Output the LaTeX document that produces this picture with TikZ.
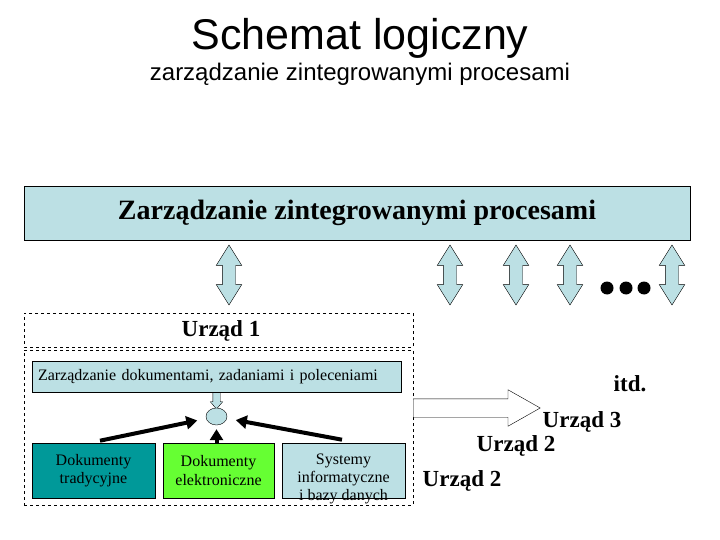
\documentclass[tikz,border=0pt]{standalone}
\usepackage{fontspec}
\setmainfont{Liberation Serif}
\newfontfamily\titlefont{Liberation Sans}
\usepackage{tikz}
\usetikzlibrary{shapes.geometric, shapes.arrows, arrows.meta, positioning}
\definecolor{paleblue}{RGB}{188,224,228}
\definecolor{docteal}{RGB}{0,153,153}
\definecolor{docgreen}{RGB}{102,255,51}
\tikzset{
    procbox/.style={rectangle, draw=black, fill=paleblue, inner sep=0pt},
    unitbox/.style={rectangle, draw=black, dashed, inner sep=0pt},
    docbox/.style={rectangle, draw=black, semithick, align=center, inner sep=0pt,
                   minimum height=55pt, font=\fontsize{16}{18.5}\selectfont},
    linkarrow/.style={double arrow, draw=black, fill=paleblue, rotate=90,
                      inner xsep=0pt, inner ysep=6.5pt, double arrow tip angle=64,
                      double arrow head extend=6pt, minimum height=60pt, minimum width=25pt},
    feed/.style={-{Triangle[length=11pt, width=13pt]}, line width=4pt, draw=black},
    unitlbl/.style={font=\bfseries\fontsize{23}{27}\selectfont, inner sep=0pt},
}

\begin{document}
\begin{tikzpicture}[x=1pt, y=-1pt,
        dot/.style={circle, fill=black, inner sep=0pt, minimum size=13pt},
        flowarrow/.style={single arrow, draw=black, fill=white, inner xsep=0pt,
                          inner ysep=9pt, single arrow tip angle=59,
                          single arrow head extend=9pt, minimum height=127pt, minimum width=36pt}
    ]
    \useasboundingbox (0,0) rectangle (720,540);
    % title
    \node[font=\titlefont\fontsize{43}{47}\selectfont] (title) at (360,38) {Schemat logiczny};
    \node[font=\titlefont\fontsize{24}{28}\selectfont] (subtitle) at (360,74)
        {zarządzanie zintegrowanymi procesami};
    % top level
    \node[procbox, minimum width=666pt, minimum height=54pt,
          font=\bfseries\fontsize{28}{32}\selectfont] (zip) at (357,213)
        {Zarządzanie zintegrowanymi procesami};
    \node[linkarrow] (l1) at (229,275) {};
    \node[linkarrow] (l2) at (450,275) {};
    \node[linkarrow] (l3) at (516,275) {};
    \node[linkarrow] (l4) at (570,275) {};
    \node[linkarrow] (l5) at (672,275) {};
    \node[dot] (d1) at (607,288) {};
    \node[dot] (d2) at (626,288) {};
    \node[dot] (d3) at (644,288) {};
    % office 1
    \node[unitbox, minimum width=389pt, minimum height=34pt] (u1) at (218.5,330) {};
    \node[unitlbl] (u1lbl) at (221,331) {Urząd 1};
    \node[unitbox, minimum width=389pt, minimum height=155pt] (u1body) at (218.5,427.5) {};
    \node[linkarrow, inner ysep=3.5pt, minimum height=24pt, minimum width=12pt,
          double arrow tip angle=81, double arrow head extend=2.5pt] (l0) at (216.5,397) {};
    \node[procbox, text width=357pt, inner xsep=6pt, minimum height=31pt, align=left,
          font=\fontsize{16}{19}\selectfont] (dm) at (216.5,376.5)
        {Zarządzanie dokumentami, zadaniami i poleceniami};
    \node[ellipse, draw=black, fill=paleblue, minimum width=21pt, minimum height=17pt,
          inner sep=0pt] (hub) at (216.5,416.5) {};
    \node[docbox, fill=docteal, minimum width=123pt] (trad) at (93.5,470.5)
        {Dokumenty\\tradycyjne};
    \node[docbox, fill=docgreen, minimum width=111pt] (elec) at (218.5,470.5)
        {Dokumenty\\elektroniczne};
    \node[docbox, fill=paleblue, minimum width=123pt] (sys) at (343.5,470.5) {};
    \node[align=center, font=\fontsize{16}{18}\selectfont, inner sep=0pt] (systxt)
        at (343.5,479) {Systemy\\informatyczne\\i bazy danych};
    \draw[feed, shorten >=9pt] ([xshift=6.5pt, yshift=2pt]trad.north) -- (hub);
    \draw[feed, shorten >=4pt] ([xshift=-2pt, yshift=-1pt]elec.north) -- (hub);
    \draw[feed, shorten >=9pt] ([xshift=-1.5pt, yshift=3pt]sys.north) -- (hub);
    % next offices
    \node[flowarrow, anchor=tail] (flow) at (413,408) {};
    \node[unitlbl] (itd) at (630,384) {itd.};
    \node[unitlbl] (u3) at (582,422) {Urząd 3};
    \node[unitlbl] (u2a) at (516,446) {Urząd 2};
    \node[unitlbl] (u2b) at (462,481) {Urząd 2};
\end{tikzpicture}
\end{document}
